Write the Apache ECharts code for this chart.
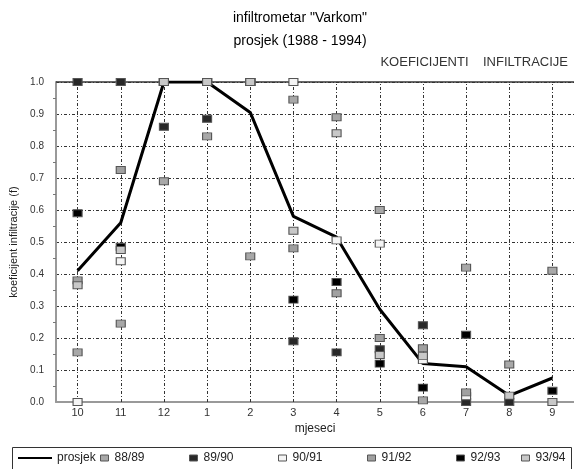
<!DOCTYPE html>
<html><head><meta charset="utf-8">
<script src="https://cdn.jsdelivr.net/npm/echarts@6/dist/echarts.min.js"></script>
<style>html,body{margin:0;padding:0;background:#fff}#c{width:574px;height:469px}</style>
</head><body><div id="c"></div><script>
const months = ['10','11','12','1','2','3','4','5','6','7','8','9'];
const yTicks = [0,0.1,0.2,0.3,0.4,0.5,0.6,0.7,0.8,0.9,1.0];
const prosjek = [0.41,0.56,1.0,1.0,0.905,0.58,0.515,0.29,0.12,0.11,0.02,0.075];
const s8889 = [0.155,0.245,0.69,0.83,0.455,0.945,0.89,0.6,0.005,0.42,0.117,0.41];
const s8990 = [1.0,1.0,0.86,0.885,1.0,0.19,0.155,0.165,0.24,0.0,0.0,null];
const s9091 = [0.0,0.44,1.0,1.0,1.0,1.0,0.505,0.495,0.131,0.018,null,null];
const s9192 = [0.38,0.725,1.0,1.0,1.0,0.48,0.34,0.2,0.168,0.03,null,null];
const s9293 = [0.59,0.485,1.0,1.0,1.0,0.32,0.375,0.12,0.045,0.21,null,0.035];
const s9394 = [0.365,0.475,1.0,1.0,1.0,0.535,0.84,0.147,0.144,null,0.02,0.0];

const FONT = 'Liberation Sans, Arial, sans-serif';
const scatterDefs = [
  ['88/89', s8889, '#a8a8a8'],
  ['89/90', s8990, '#282828'],
  ['90/91', s9091, '#f4f4f4'],
  ['91/92', s9192, '#a0a0a0'],
  ['92/93', s9293, '#000000'],
  ['93/94', s9394, '#c8c8c8']
];
const legendLeft = [100, 189, 278, 367, 456, 521];

const series = [{
  name: 'prosjek', type: 'line', data: prosjek, showSymbol: false, symbol: 'none',
  lineStyle: {color: '#000', width: 3}, itemStyle: {color: '#000'}, z: 2,
  markLine: {
    silent: true, symbol: 'none', z: 1, label: {show: false}, animation: false,
    lineStyle: {color: '#333', width: 1, type: [3, 2, 1, 2]},
    data: months.map(m => ({xAxis: m})).concat([{yAxis: 1, lineStyle: {type: 'solid', color: '#333', width: 1.5}}])
  }
}];
scatterDefs.forEach(d => {
  series.push({
    name: d[0], type: 'scatter', data: d[1], symbol: 'rect', symbolSize: [9, 7], z: 3,
    itemStyle: {color: d[2], borderColor: '#555', borderWidth: 1, opacity: 1}
  });
});

const legends = [{
  left: 18, top: 452, padding: 0, data: [{name: 'prosjek', icon: 'rect'}], itemWidth: 34, itemHeight: 2, itemGap: 0,
  textStyle: {fontFamily: FONT, fontSize: 12, color: '#222'}
}];
scatterDefs.forEach((d, i) => {
  legends.push({
    left: legendLeft[i], top: 452, padding: 0, data: [{name: d[0], icon: 'rect'}], itemWidth: 8, itemHeight: 6, itemGap: 0,
    itemStyle: {borderColor: '#555', borderWidth: 1},
    textStyle: {fontFamily: FONT, fontSize: 12, color: '#222', padding: [0, 0, 0, 1]}
  });
});

const chart = echarts.init(document.getElementById('c'), null, {renderer: 'canvas'});
chart.setOption({
  animation: false,
  backgroundColor: '#fff',
  textStyle: {fontFamily: FONT},
  grid: {left: 50.5, right: -2.1, top: 82, bottom: 67, containLabel: false},
  legend: legends,
  xAxis: {
    type: 'category', data: months, boundaryGap: true,
    name: 'mjeseci', nameLocation: 'middle', nameGap: 20,
    nameTextStyle: {fontFamily: FONT, fontSize: 12, color: '#222'},
    axisLine: {lineStyle: {color: '#999', width: 2}},
    axisTick: {show: false},
    axisLabel: {fontFamily: FONT, fontSize: 11, color: '#333', margin: 5},
    splitLine: {show: false}
  },
  yAxis: {
    type: 'value', min: 0, max: 1, interval: 0.1,
    name: 'koeficijent infiltracije (f)', nameLocation: 'middle', nameGap: 37, nameRotate: 90,
    nameTextStyle: {fontFamily: FONT, fontSize: 11, color: '#222'},
    axisLine: {show: true, lineStyle: {color: '#999', width: 2}},
    axisTick: {show: false},
    minorTick: {show: true, splitNumber: 2, length: 3, lineStyle: {color: '#777'}},
    axisLabel: {fontFamily: FONT, fontSize: 10, color: '#333', margin: 12,
      formatter: v => yTicks.includes(Math.round(v * 10) / 10) ? (Math.round(v * 10) / 10).toFixed(1) : ''},
    splitLine: {show: true, lineStyle: {color: '#333', width: 1, type: [3, 2, 1, 2]}}
  },
  graphic: [
    {type: 'text', x: 300, y: 18, style: {text: 'infiltrometar "Varkom"', font: '14px ' + FONT, fill: '#000', textAlign: 'center', align: 'center', textVerticalAlign: 'middle', verticalAlign: 'middle'}},
    {type: 'text', x: 300, y: 41, style: {text: 'prosjek (1988 - 1994)', font: '14px ' + FONT, fill: '#000', textAlign: 'center', align: 'center', textVerticalAlign: 'middle', verticalAlign: 'middle'}},
    {type: 'text', x: 568, y: 62, style: {text: 'KOEFICIJENTI    INFILTRACIJE', font: '13px ' + FONT, fill: '#333', textAlign: 'right', align: 'right', textVerticalAlign: 'middle', verticalAlign: 'middle'}},
    {type: 'rect', shape: {x: 12.5, y: 447.5, width: 559, height: 22}, style: {fill: null, stroke: '#333', lineWidth: 1}, silent: true}
  ],
  series: series
});
</script></body></html>
